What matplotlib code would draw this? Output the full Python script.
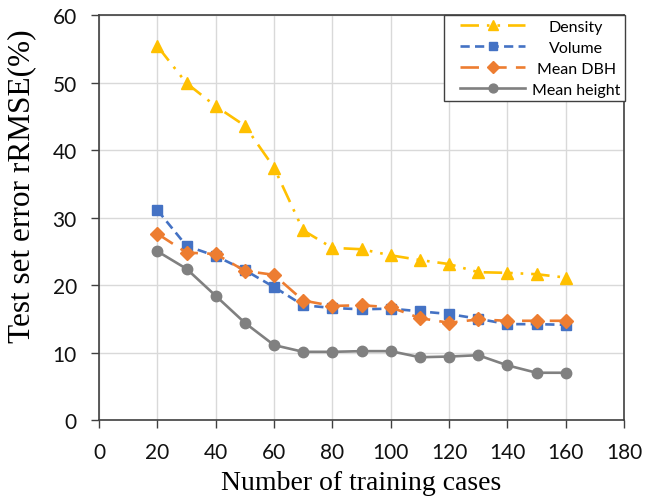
import matplotlib
matplotlib.use("Agg")
import matplotlib.pyplot as plt
from matplotlib.lines import Line2D
from matplotlib.legend_handler import HandlerLine2D
from matplotlib.offsetbox import VPacker

cases = [20, 30, 40, 50, 60, 70, 80, 90, 100, 110, 120, 130, 140, 150, 160]
density = [55.4, 49.9, 46.5, 43.6, 37.4, 28.1, 25.5, 25.3, 24.4, 23.7, 23.1, 21.9, 21.8, 21.6, 21.1]
volume = [31.1, 25.8, 24.3, 22.2, 19.7, 17.0, 16.6, 16.4, 16.5, 16.1, 15.7, 15.0, 14.2, 14.2, 14.1]
mean_dbh = [27.6, 24.8, 24.6, 22.1, 21.5, 17.7, 16.9, 17.0, 16.7, 15.1, 14.4, 14.9, 14.7, 14.7, 14.7]
mean_height = [25.0, 22.4, 18.4, 14.4, 11.1, 10.1, 10.1, 10.2, 10.2, 9.3, 9.4, 9.6, 8.1, 7.0, 7.0]

xticks = [0, 20, 40, 60, 80, 100, 120, 140, 160, 180]
yticks = [0, 10, 20, 30, 40, 50, 60]

fig = plt.figure(figsize=(6.46, 5.02), dpi=100)
ax = fig.add_axes([99/646, 1-421/502, (624-99)/646, (421-16)/502])

lw = 1.9
ax.plot(cases, density, color="#FFC000", lw=lw, ls=(0, (7, 3, 1, 3, 1, 3)), marker="^", ms=9, label="Density", zorder=3)
ax.plot(cases, volume, color="#4472C4", lw=lw, ls=(0, (3.5, 2)), marker="s", ms=6.5, label="Volume", zorder=4)
ax.plot(cases, mean_dbh, color="#ED7D31", lw=lw, ls=(0, (7, 3.5)), marker="D", ms=7, label="Mean DBH", zorder=5)
ax.plot(cases, mean_height, color="#808080", lw=lw, ls="-", marker="o", ms=7.5, label="Mean height", zorder=6)

ax.set_xlim(0, 180)
ax.set_ylim(0, 60)
ax.set_xticks(xticks)
ax.set_yticks(yticks)
ax.grid(True, color="#D9D9D9", lw=1.0)
ax.set_axisbelow(True)
for s in ax.spines.values():
    s.set_color("#404040")
    s.set_linewidth(1.2)
ax.tick_params(axis="both", direction="out", length=5.5, width=1.0, color="#404040",
               labelsize=15, labelcolor="#111111")
ax.tick_params(axis="x", pad=10)
ax.tick_params(axis="y", pad=10.5)
for lab in ax.get_xticklabels() + ax.get_yticklabels():
    lab.set_family("Lato")

ax.set_xlabel("Number of training cases", family="Liberation Serif", fontsize=20, labelpad=6)
ax.set_ylabel("Test set error rRMSE(%)", family="Liberation Serif", fontsize=22.5, labelpad=9)
ax.yaxis.set_label_coords(-0.12, 0.58)

leg = ax.legend(loc="upper right", bbox_to_anchor=(1.002, 1.0), borderaxespad=0,
                frameon=True, fancybox=False,
                edgecolor="#404040", framealpha=1, handlelength=4.8, numpoints=1,
                prop={"family": "Lato", "size": 11.5}, borderpad=0.3, labelspacing=0.42,
                handletextpad=0.4, markerscale=0.85,
                handler_map={Line2D: HandlerLine2D(xpad=0.7)})
leg.get_frame().set_linewidth(1.0)

# centre the legend labels within their column
fig.canvas.draw()
r = fig.canvas.get_renderer()
maxw = max(t.get_window_extent(r).width for t in leg.texts)
for col in leg._legend_handle_box.get_children():
    for row in col.get_children():
        kids = row.get_children()
        ta = kids[1]
        vp = VPacker(children=[ta], align="center", pad=0, sep=0, width=maxw)
        vp.set_figure(fig)
        kids[1] = vp

fig.savefig("out.png", dpi=100)
